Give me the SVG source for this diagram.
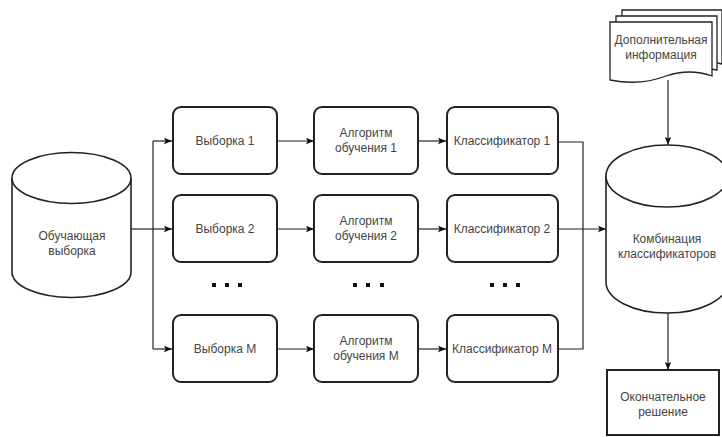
<svg xmlns="http://www.w3.org/2000/svg" width="722" height="437" viewBox="0 0 722 437">
<defs>
<marker id="arr" viewBox="0 0 10 10" refX="10" refY="5" markerWidth="8" markerHeight="8" markerUnits="userSpaceOnUse" orient="auto">
<path d="M0,1 L10,5 L0,9 L2,5 Z" fill="#111"/>
</marker>
<style>
.box{fill:#fff;stroke:#222;stroke-width:2}
.cyl{fill:#fff;stroke:#222;stroke-width:1.6}
.doc{fill:#fff;stroke:#222;stroke-width:1.3}
.t{font-family:"Liberation Sans",Arial,sans-serif;font-size:12px;fill:#444;text-anchor:middle}
.c{fill:none;stroke:#222;stroke-width:1.2}
.dot{fill:#111}
</style>
</defs>
<rect width="722" height="437" fill="#fff"/>

<g id="connectors">
<path class="c" d="M131,229 H153"/>
<path class="c" d="M153,141 V349"/>
<path class="c" d="M153,141 H172" marker-end="url(#arr)"/>
<path class="c" d="M153,229 H172" marker-end="url(#arr)"/>
<path class="c" d="M153,349 H172" marker-end="url(#arr)"/>
<path class="c" d="M277,141 H314" marker-end="url(#arr)"/>
<path class="c" d="M277,229 H314" marker-end="url(#arr)"/>
<path class="c" d="M277,349 H314" marker-end="url(#arr)"/>
<path class="c" d="M418,141 H446" marker-end="url(#arr)"/>
<path class="c" d="M418,229 H446" marker-end="url(#arr)"/>
<path class="c" d="M418,349 H446" marker-end="url(#arr)"/>
<path class="c" d="M558,142 H583 V349 H558"/>
<path class="c" d="M558,229 H606" marker-end="url(#arr)"/>
<path class="c" d="M668,80 V145" marker-end="url(#arr)"/>
<path class="c" d="M668,313 V370" marker-end="url(#arr)"/>
</g>

<g id="training">
<path class="cyl" d="M12,178 A59.5,25.5 0 0 1 131,178 V272 A59.5,25.5 0 0 1 12,272 Z"/>
<path class="cyl" d="M12,178 A59.5,25.5 0 0 0 131,178"/>
<text class="t" x="72" y="240">Обучающая</text>
<text class="t" x="72" y="255">выборка</text>
</g>

<g id="sample1"><rect class="box" x="173" y="107" width="104" height="67" rx="8"/><text class="t" x="225" y="145">Выборка 1</text></g>
<g id="sample2"><rect class="box" x="173" y="195" width="104" height="67" rx="8"/><text class="t" x="225" y="233">Выборка 2</text></g>
<g id="sampleM"><rect class="box" x="173" y="315" width="104" height="67" rx="8"/><text class="t" x="225" y="353">Выборка М</text></g>

<g id="algo1"><rect class="box" x="314" y="107" width="104" height="67" rx="8"/><text class="t" x="366" y="137">Алгоритм</text><text class="t" x="366" y="152">обучения 1</text></g>
<g id="algo2"><rect class="box" x="314" y="195" width="104" height="67" rx="8"/><text class="t" x="366" y="225">Алгоритм</text><text class="t" x="366" y="240">обучения 2</text></g>
<g id="algoM"><rect class="box" x="314" y="315" width="104" height="67" rx="8"/><text class="t" x="366" y="345">Алгоритм</text><text class="t" x="366" y="360">обучения М</text></g>

<g id="clf1"><rect class="box" x="447" y="107" width="111" height="67" rx="8"/><text class="t" x="502" y="145">Классификатор 1</text></g>
<g id="clf2"><rect class="box" x="447" y="195" width="111" height="67" rx="8"/><text class="t" x="502" y="233">Классификатор 2</text></g>
<g id="clfM"><rect class="box" x="447" y="315" width="111" height="67" rx="8"/><text class="t" x="502" y="353">Классификатор М</text></g>

<g id="dots">
<rect class="dot" x="212" y="283" width="4" height="4"/><rect class="dot" x="225" y="283" width="4" height="4"/><rect class="dot" x="238" y="283" width="4" height="4"/>
<rect class="dot" x="353" y="283" width="4" height="4"/><rect class="dot" x="366" y="283" width="4" height="4"/><rect class="dot" x="380" y="283" width="4" height="4"/>
<rect class="dot" x="490" y="283" width="4" height="4"/><rect class="dot" x="503" y="283" width="4" height="4"/><rect class="dot" x="516" y="283" width="4" height="4"/>
</g>

<g id="extra">
<path class="doc" d="M622,10 H722 V64 Q700,58 690,64 L622,64 Z"/>
<path class="doc" d="M616,16 H717 V70 Q690,64 672,72 Q650,80 616,70 Z"/>
<path class="doc" d="M610,22 H712 V76 Q690,68 666,76 Q640,86 610,80 Z"/>
<text class="t" x="661" y="44">Дополнительная</text>
<text class="t" x="661" y="59">информация</text>
</g>

<g id="combo">
<path class="cyl" d="M606,176 A61,31 0 0 1 728,176 V282 A61,31 0 0 1 606,282 Z"/>
<path class="cyl" d="M606,176 A61,31 0 0 0 728,176"/>
<text class="t" x="667" y="243">Комбинация</text>
<text class="t" x="667" y="258">классификаторов</text>
</g>

<g id="final">
<rect class="box" x="607" y="370" width="112" height="65" fill="#fff"/>
<text class="t" x="663" y="401">Окончательное</text>
<text class="t" x="663" y="416">решение</text>
</g>
</svg>
